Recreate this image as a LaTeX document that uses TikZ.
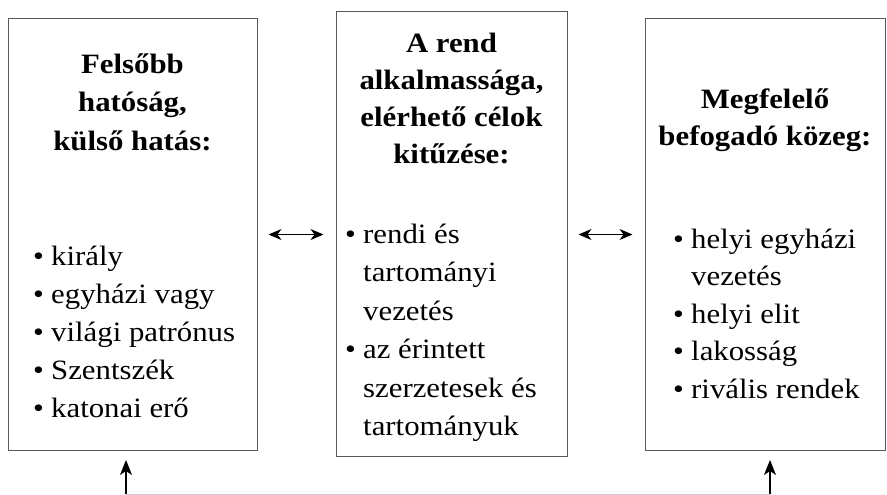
\documentclass[tikz,border=0pt]{standalone}
\usepackage{fontspec}
\setmainfont[FakeStretch=1.1]{Liberation Serif}
\usetikzlibrary{arrows.meta}
\newcommand{\bl}[1]{\makebox[18pt][l]{\textbullet}#1}
\newcommand{\cl}[1]{\hspace*{18pt}#1}
\begin{document}
\begin{tikzpicture}[x=1pt,y=-1pt,
  boxnode/.style={draw=black!65,line width=1pt,inner sep=0pt},
  headtext/.style={anchor=base,align=center,inner sep=0pt,font=\bfseries\fontsize{28}{#1}\selectfont},
  listtext/.style={anchor=base west,align=left,inner sep=0pt,font=\fontsize{28}{#1}\selectfont},
  dbl/.style={{Stealth[length=13pt,width=11pt,inset=4pt]}-{Stealth[length=13pt,width=11pt,inset=4pt]},line width=1.2pt},
  upar/.style={-{Stealth[length=15pt,width=12pt,inset=4pt]},line width=1.2pt}]
\useasboundingbox (0,0) rectangle (887,495);
% boxes
\node[boxnode,minimum width=249pt,minimum height=431pt] (b1) at (132.5,234.5) {};
\node[boxnode,minimum width=231pt,minimum height=444pt] (b2) at (451.5,234) {};
\node[boxnode,minimum width=240pt,minimum height=431pt] (b3) at (765,234.5) {};
% headings (anchor base = baseline of last line)
\node[headtext=38.5] (h1) at (132.5,150) {Felsőbb\\hatóság,\\külső hatás:};
\node[headtext=36.7] (h2) at (451.5,163) {A rend\\alkalmassága,\\elérhető célok\\kitűzése:};
\node[headtext=37] (h3) at (765,145) {Megfelelő\\befogadó közeg:};
% lists
\node[listtext=38] (l1) at (33,417) {\bl{király}\\\bl{egyházi vagy}\\\bl{világi patrónus}\\\bl{Szentszék}\\\bl{katonai erő}};
\node[listtext=38.5] (l2) at (345,435.5) {\bl{rendi és}\\\cl{tartományi}\\\cl{vezetés}\\\bl{az érintett}\\\cl{szerzetesek és}\\\cl{tartományuk}};
\node[listtext=37.5] (l3) at (673,398) {\bl{helyi egyházi}\\\cl{vezetés}\\\bl{helyi elit}\\\bl{lakosság}\\\bl{rivális rendek}};
% connectors
\draw[dbl] ([xshift=11pt]b1.east) -- ([xshift=-12pt]b1.east -| b2.west);
\draw[dbl] ([xshift=11pt]b2.east |- b3.west) -- ([xshift=-12pt]b3.west);
\coordinate (c1) at (126,494);
\coordinate (c2) at (770,494);
\coordinate (t1) at (126,460);
\coordinate (t2) at (770,460);
\draw[black!20,line width=1pt] (c1) -- (c2);
\draw[upar] (c1) -- (t1);
\draw[upar] (c2) -- (t2);
\end{tikzpicture}
\end{document}
